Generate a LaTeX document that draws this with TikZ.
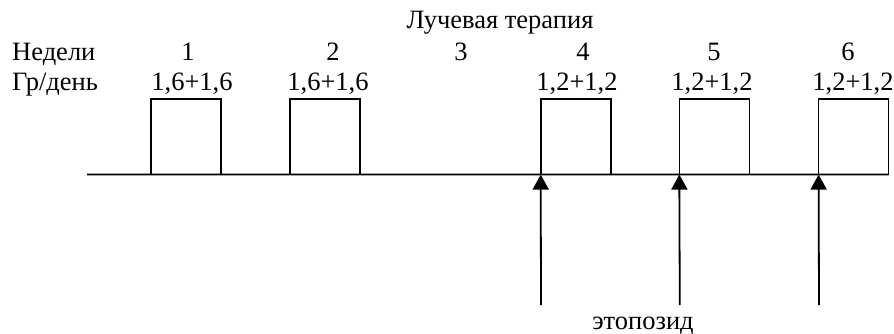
\documentclass[tikz,border=0pt]{standalone}
\usepackage{fontspec}
\setmainfont{Liberation Serif}
\usetikzlibrary{arrows.meta}
\begin{document}
\begin{tikzpicture}[x=1pt,y=-1pt,
  lbl/.style={anchor=base,inner sep=0pt,font=\fontsize{26.5}{30}\selectfont},
  lbll/.style={lbl,anchor=base west},
  dose/.style={draw,line width=1.6pt,minimum width=70pt,minimum height=75.5pt,inner sep=0pt,outer sep=0pt},
  axis/.style={line width=1.8pt},
  chemo/.style={line width=1.8pt,-{Triangle[width=16pt,length=15pt]}}]
\useasboundingbox (0,0) rectangle (894,333);
% title
\node[lbl] (title) at (500,28) {Лучевая терапия};
\node[lbll] (weeks) at (12,60) {Недели};
\node[lbll] (gy) at (12,90.5) {Гр/день};
% week numbers
\node[lbl] (w1) at (188,60) {1};
\node[lbl] (w2) at (333,60) {2};
\node[lbl] (w3) at (461,60) {3};
\node[lbl] (w4) at (583,60) {4};
\node[lbl] (w5) at (714,60) {5};
\node[lbl] (w6) at (848,60) {6};
% doses
\node[lbl] (d1) at (192,90.5) {1,6+1,6};
\node[lbl] (d2) at (328,90.5) {1,6+1,6};
\node[lbl] (d4) at (577,90.5) {1,2+1,2};
\node[lbl] (d5) at (712,90.5) {1,2+1,2};
\node[lbl] (d6) at (853,90.5) {1,2+1,2};
% boxes
\node[dose] (b1) at (186,136.8) {};
\node[dose] (b2) at (325,136.8) {};
\node[dose] (b4) at (575.7,136.8) {};
\node[dose] (b5) at (714.3,136.8) {};
\node[dose] (b6) at (853.6,136.8) {};
% axis
\coordinate (axL) at (87,174.5);
\coordinate (axR) at (b6.south east);
\draw[axis] (axL) -- (axR);
% chemo arrows
\coordinate (a4) at (541,305);
\coordinate (a5) at (679.8,305);
\coordinate (a6) at (819,305);
\draw[chemo] (a4) -- (b4.south west);
\draw[chemo] (a5) -- (b5.south west);
\draw[chemo] (a6) -- (b6.south west);
\node[lbl] (eto) at (643,329) {этопозид};
\end{tikzpicture}
\end{document}
